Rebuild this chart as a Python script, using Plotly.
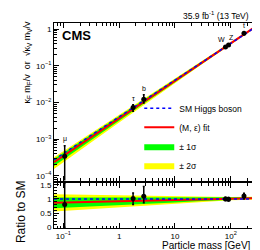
import numpy as np
import plotly.graph_objects as go

VEV = 246.22

# Measured particles
particles = ["μ", "τ", "b", "W", "Z", "t"]
mass = [0.1057, 1.777, 2.76, 80.4, 91.19, 172.5]
ratio = [0.80, 1.01, 1.09, 1.00, 0.99, 1.10]
ratio_err_up = [0.75, 0.20, 0.35, 0.06, 0.06, 0.10]
ratio_err_dn = [0.80, 0.21, 0.23, 0.06, 0.06, 0.10]

# (M, eps) fit and its uncertainty bands, as ratio to SM
band_mass = [0.068, 0.3, 1, 3, 10, 30, 100, 295]
fit_ratio = [0.86, 0.89, 0.915, 0.94, 0.96, 0.985, 1.01, 1.03]
sig2_lo = [0.56, 0.64, 0.705, 0.77, 0.82, 0.885, 0.95, 0.98]
sig2_hi = [1.16, 1.14, 1.125, 1.11, 1.10, 1.085, 1.07, 1.08]
sig1_lo = [0.67, 0.73, 0.785, 0.83, 0.87, 0.925, 0.97, 1.00]
sig1_hi = [1.05, 1.05, 1.045, 1.05, 1.05, 1.045, 1.05, 1.06]
sm_ratio = [1, 1, 1, 1, 1, 1, 1, 1]

# Ticks
x_tickvals = [0.1, 1, 10, 100]
x_ticktext = ["10<sup>−1</sup>", "1", "10", "10<sup>2</sup>"]
y_tickvals = [1e-4, 1e-3, 1e-2, 1e-1, 1]
y_ticktext = ["10<sup>−4</sup>", "10<sup>−3</sup>", "10<sup>−2</sup>", "10<sup>−1</sup>", "1"]
r_tickvals = [0, 0.5, 1, 1.5]
r_ticktext = ["0", "0.5", "1", "1.5"]

FONT = "Liberation Sans, Arial, sans-serif"
YELLOW = "#ffff00"
GREEN = "#00ff00"
RED = "#ff0000"
BLUE = "#0000ff"

bm = np.array(band_mass, dtype=float)
scale = bm / VEV


def poly(lo, hi, s):
    x = list(bm) + list(bm[::-1])
    y = list(np.array(hi) * s) + list((np.array(lo) * s)[::-1])
    return x, y


fig = go.Figure()

for row, (xa, ya, s) in enumerate([("x", "y", scale), ("x2", "y2", np.ones_like(bm))]):
    show = row == 0
    x, y = poly(sig2_lo, sig2_hi, s)
    fig.add_trace(go.Scatter(x=x, y=y, fill="toself", fillcolor=YELLOW, mode="lines",
                             line=dict(width=0, color=YELLOW), name="± 2σ",
                             showlegend=show, legendrank=4, xaxis=xa, yaxis=ya, hoverinfo="skip"))
    x, y = poly(sig1_lo, sig1_hi, s)
    fig.add_trace(go.Scatter(x=x, y=y, fill="toself", fillcolor=GREEN, mode="lines",
                             line=dict(width=0, color=GREEN), name="± 1σ",
                             showlegend=show, legendrank=3, xaxis=xa, yaxis=ya, hoverinfo="skip"))
    fig.add_trace(go.Scatter(x=bm, y=np.array(fit_ratio) * s, mode="lines",
                             line=dict(color=RED, width=2), name="(M, ε) fit",
                             showlegend=show, legendrank=2, xaxis=xa, yaxis=ya))
    fig.add_trace(go.Scatter(x=bm, y=np.array(sm_ratio) * s, mode="lines",
                             line=dict(color=BLUE, width=1.5, dash="dot"), name="SM Higgs boson",
                             showlegend=show, legendrank=1, xaxis=xa, yaxis=ya))

# points
m = np.array(mass)
r = np.array(ratio)
up = np.array(ratio_err_up)
dn = np.array(ratio_err_dn)
ptop = r * m / VEV
ptop_up = up * m / VEV
ptop_dn = np.minimum(dn * m / VEV, 0.9999 * ptop)
fig.add_trace(go.Scatter(x=m, y=ptop, mode="markers", showlegend=False,
                         marker=dict(color="black", size=5),
                         error_y=dict(type="data", array=ptop_up, arrayminus=ptop_dn,
                                      color="black", thickness=1.5, width=1),
                         xaxis="x", yaxis="y"))
fig.add_trace(go.Scatter(x=m, y=r, mode="markers", showlegend=False,
                         marker=dict(color="black", size=5),
                         error_y=dict(type="data", array=up, arrayminus=dn,
                                      color="black", thickness=1.5, width=1),
                         xaxis="x2", yaxis="y2"))

annotations = []
label_shift = {"W": -4, "Z": 3}
for p, mm, yt in zip(particles, m, ptop + ptop_up):
    annotations.append(dict(x=np.log10(mm), y=np.log10(yt), xref="x", yref="y",
                            text=p, showarrow=False, yanchor="bottom", yshift=1,
                            xshift=label_shift.get(p, 0),
                            font=dict(family=FONT, size=7, color="black")))

annotations += [
    dict(x=0.03, y=0.985, xref="paper", yref="paper", xanchor="left", yanchor="top",
         text="<b>CMS</b>", showarrow=False, font=dict(family=FONT, size=13, color="black")),
    dict(x=0.97, y=1.0, xref="paper", yref="paper", xanchor="right", yanchor="bottom",
         yshift=0, text="35.9 fb<sup>-1</sup> (13 TeV)", showarrow=False,
         font=dict(family=FONT, size=8.5, color="black")),
    dict(x=-0.13, y=0.81, xref="paper", yref="paper", xanchor="center", yanchor="middle",
         textangle=-90, showarrow=False,
         text="κ<sub>F</sub> m<sub>F</sub>/v  or  √κ<sub>V</sub> m<sub>V</sub>/v",
         font=dict(family=FONT, size=9, color="black")),
    dict(x=-0.165, y=0.08, xref="paper", yref="paper", xanchor="center", yanchor="middle",
         textangle=-90, showarrow=False, text="Ratio to SM",
         font=dict(family=FONT, size=12, color="black")),
    dict(x=0.98, y=-0.05, xref="paper", yref="paper", xanchor="right", yanchor="top",
         showarrow=False, text="Particle mass [GeV]",
         font=dict(family=FONT, size=10, color="black")),
]


def minor_log(lo, hi):
    vals = []
    for e in range(lo, hi + 1):
        for k in range(2, 10):
            vals.append(k * 10.0 ** e)
    return vals


axis_common = dict(showgrid=False, zeroline=False, ticks="inside", ticklen=5, tickwidth=1,
                   tickcolor="black", showline=True, linecolor="black", linewidth=1,
                   mirror="allticks", tickfont=dict(family=FONT, size=8, color="black"))

xr = [np.log10(0.068), np.log10(295)]
fig.update_layout(
    width=260, height=250,
    margin=dict(l=46, r=11, t=15, b=30),
    paper_bgcolor="white", plot_bgcolor="white",
    font=dict(family=FONT, size=8, color="black"),
    xaxis=dict(type="log", range=xr, domain=[0, 1], anchor="y", showticklabels=False,
               tickmode="array", tickvals=x_tickvals, ticktext=x_ticktext,
               minor=dict(tickmode="array", tickvals=minor_log(-2, 2), ticks="inside",
                          ticklen=2.5, tickcolor="black", showgrid=False),
               **axis_common),
    yaxis=dict(type="log", range=[np.log10(7.5e-5), np.log10(1.46)], domain=[0.2317, 1],
               anchor="x", tickmode="array", tickvals=y_tickvals, ticktext=y_ticktext,
               minor=dict(tickmode="array", tickvals=minor_log(-5, 0), ticks="inside",
                          ticklen=2.5, tickcolor="black", showgrid=False),
               **axis_common),
    xaxis2=dict(type="log", range=xr, domain=[0, 1], anchor="y2", matches="x",
                tickmode="array", tickvals=x_tickvals, ticktext=x_ticktext,
                minor=dict(tickmode="array", tickvals=minor_log(-2, 2), ticks="inside",
                           ticklen=2.5, tickcolor="black", showgrid=False),
                **axis_common),
    yaxis2=dict(range=[-0.025, 1.56], domain=[0, 0.2195], anchor="x2",
                tickmode="array", tickvals=r_tickvals, ticktext=r_ticktext,
                minor=dict(dtick=0.1, ticks="inside", ticklen=2.5, tickcolor="black",
                           showgrid=False),
                **axis_common),
    legend=dict(x=0.42, y=0.655, xanchor="left", yanchor="top", bgcolor="rgba(0,0,0,0)",
                font=dict(family=FONT, size=8.5, color="black"), traceorder="normal",
                itemwidth=30),
    annotations=annotations,
    showlegend=True,
)

fig.write_html("out.html")
